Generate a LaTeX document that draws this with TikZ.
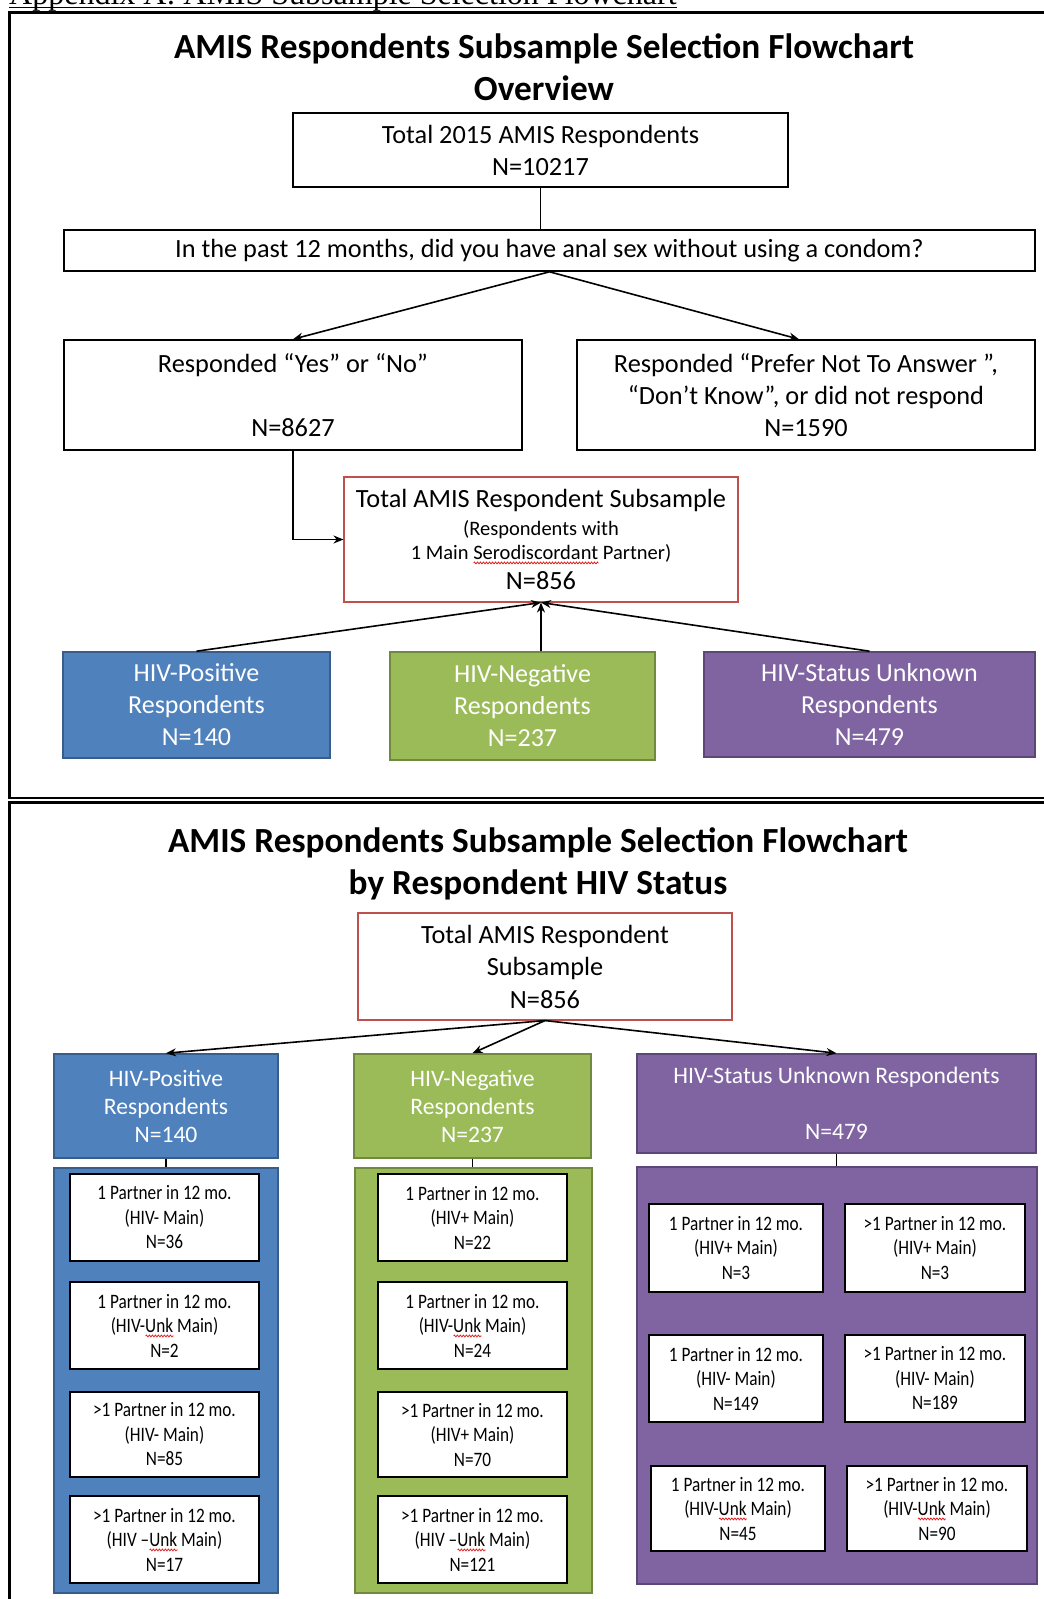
\documentclass[tikz,border=0pt]{standalone}
\usepackage{fontspec}
\setmainfont{Carlito}
\newfontfamily\capfont{Liberation Serif}
\newfontfamily\condfont[FakeStretch=0.84]{Carlito}
\usetikzlibrary{arrows.meta,decorations.pathmorphing}
\definecolor{bluef}{HTML}{4F81BD}
\definecolor{blued}{HTML}{385D8A}
\definecolor{greenf}{HTML}{9BBB59}
\definecolor{greend}{HTML}{71893F}
\definecolor{purpf}{HTML}{8064A2}
\definecolor{purpd}{HTML}{5C4776}
\definecolor{redb}{HTML}{C0504D}
\definecolor{redsq}{HTML}{E02020}
\newsavebox\sqbox
\newcommand\redsq[1]{\sbox\sqbox{#1}\rlap{\tikz[baseline=0pt,x=1pt,y=1pt]\draw[redsq,line width=0.8pt,decorate,decoration={zigzag,amplitude=0.9pt,segment length=3pt}] (0,-3.4) -- (\the\wd\sqbox,-3.4);}\usebox\sqbox}
\tikzset{
  bx/.style n args={4}{minimum width=#3pt-#1pt, minimum height=#4pt-#2pt, at={({(#1+#3)/2},{(#2+#4)/2})}},
  wbox/.style={inner sep=0pt, draw=black, line width=1.6pt, fill=white, align=center, font=\fontsize{26.3}{32}\selectfont},
  rbox/.style={inner sep=0pt, draw=redb, line width=1.1pt, fill=white, align=center},
  colbox/.style={inner sep=0pt, line width=1.6pt, align=center, text=white},
  cont/.style={inner sep=0pt, line width=1.6pt},
  ibox/.style={inner sep=0pt, draw=black, line width=1.8pt, fill=white, align=center, font=\condfont\fontsize{20.5}{24.5}\selectfont},
  conn/.style={line width=1.6pt},
  arr/.style={line width=1.6pt, -{Stealth[length=10pt,width=8pt]}},
  ttl/.style={inner sep=0pt, align=center, font=\bfseries\fontsize{35.3}{42}\selectfont},
  frameline/.style={line width=2.6pt}
}
\begin{document}
\begin{tikzpicture}[x=1pt,y=-1pt]
\useasboundingbox (0,0) rectangle (1044,1599);
\clip (0,0) rectangle (1044,1599);

% caption
\node[anchor=base west, inner sep=0pt, font=\capfont\fontsize{32}{38}\selectfont] (cap) at (9,4.5) {Appendix A: AMIS Subsample Selection Flowchart};
\draw[line width=1.4pt] ([yshift=-3.2pt]cap.base west) -- ([yshift=-3.2pt]cap.base east);

% frames
\draw[frameline] (1060,12.5) -- (9.7,12.5) -- (9.7,798) -- (1060,798);
\draw[frameline] (1060,802.5) -- (9.7,802.5) -- (9.7,1620);

% ---------- overview ----------
\node[ttl] (t1) at (544,67) {AMIS Respondents Subsample Selection Flowchart\\Overview};

\node[wbox, bx={293}{113}{788}{187}] (tot) {Total 2015 AMIS Respondents\\N=10217};
\node[wbox, bx={64}{230}{1035}{271}] (q) {In the past 12 months, did you have anal sex without using a condom?};
\node[wbox, bx={64}{340}{522}{450}] (yn) {Responded “Yes” or “No”\\[32pt]N=8627};
\node[wbox, bx={577}{340}{1035}{450}] (pna) {Responded “Prefer Not To Answer ”,\\“Don’t Know”, or did not respond\\N=1590};
\node[rbox, bx={344}{477}{738}{602}, font=\fontsize{26.3}{26}\selectfont] (sub) {Total AMIS Respondent Subsample\\[2pt]{\fontsize{20.5}{24}\selectfont (Respondents with}\\[-2pt]{\fontsize{20.5}{24}\selectfont 1 Main \redsq{Serodiscordant} Partner)}\\[4pt]N=856};

\node[colbox, fill=bluef, draw=blued, bx={63}{652}{330}{758}, font=\fontsize{26}{32}\selectfont] (pos) {HIV-Positive\\Respondents\\N=140};
\node[colbox, fill=greenf, draw=greend, bx={390}{652}{655}{760}, font=\fontsize{26}{32}\selectfont] (neg) {HIV-Negative\\Respondents\\N=237};
\node[colbox, fill=purpf, draw=purpd, bx={704}{652}{1035}{757}, font=\fontsize{26}{32}\selectfont] (unk) {HIV-Status Unknown\\Respondents\\N=479};

\draw[conn] (tot.south) -- (tot.south |- q.north);
\draw[arr] (q.south) -- (yn.north);
\draw[arr] (q.south) -- ([xshift=-7pt]pna.north);
\draw[arr] (yn.south) |- (sub.west);
\draw[arr] (pos.north) -- (sub.south);
\draw[arr] (neg.north -| sub.south) -- (sub.south);
\draw[arr] (unk.north) -- (sub.south);

% ---------- by HIV status ----------
\node[ttl] (t2) at (538,863.5) {AMIS Respondents Subsample Selection Flowchart\\by Respondent HIV Status};

\node[rbox, bx={358}{913}{732}{1020}, font=\fontsize{26.3}{32.5}\selectfont] (sub2) {Total AMIS Respondent\\Subsample\\N=856};

\node[colbox, fill=bluef, draw=blued, bx={54}{1054}{278}{1158}, font=\fontsize{23.6}{28}\selectfont] (pos2) {HIV-Positive\\Respondents\\N=140};
\node[colbox, fill=greenf, draw=greend, bx={354}{1054}{591}{1158}, font=\fontsize{23.6}{28}\selectfont] (neg2) {HIV-Negative\\Respondents\\N=237};
\node[colbox, fill=purpf, draw=purpd, bx={637}{1054}{1036}{1153}, font=\fontsize{23.6}{28}\selectfont] (unk2) {HIV-Status Unknown Respondents\\[28pt]N=479};

\node[cont, fill=bluef, draw=blued, bx={54}{1168}{278}{1593}] (posc) {};
\node[cont, fill=greenf, draw=greend, bx={355}{1168}{592}{1593}] (negc) {};
\node[cont, fill=purpf, draw=purpd, bx={637}{1167}{1037}{1584}] (unkc) {};

\draw[arr] (sub2.south) -- (pos2.north);
\draw[arr] (sub2.south) -- (neg2.north);
\draw[arr] (sub2.south) -- (unk2.north);
\draw[conn] (pos2.south) -- (pos2.south |- posc.north);
\draw[conn] (neg2.south) -- (neg2.south |- negc.north);
\draw[conn] (unk2.south) -- (unk2.south |- unkc.north);

% blue inner boxes
\node[ibox, bx={70}{1174}{259}{1261}] (p1) {1 Partner in 12 mo.\\(HIV- Main)\\N=36};
\node[ibox, bx={70}{1282}{259}{1369}] (p2) {1 Partner in 12 mo.\\(HIV-\redsq{Unk} Main)\\N=2};
\node[ibox, bx={70}{1392}{259}{1477}] (p3) {>1 Partner in 12 mo.\\(HIV- Main)\\N=85};
\node[ibox, bx={70}{1496}{259}{1583}] (p4) {>1 Partner in 12 mo.\\(HIV –\redsq{Unk} Main)\\N=17};

% green inner boxes
\node[ibox, bx={378}{1174}{567}{1261}] (n1) {1 Partner in 12 mo.\\(HIV+ Main)\\N=22};
\node[ibox, bx={378}{1282}{567}{1369}] (n2) {1 Partner in 12 mo.\\(HIV-\redsq{Unk} Main)\\N=24};
\node[ibox, bx={378}{1392}{567}{1477}] (n3) {>1 Partner in 12 mo.\\(HIV+ Main)\\N=70};
\node[ibox, bx={378}{1496}{567}{1583}] (n4) {>1 Partner in 12 mo.\\(HIV –\redsq{Unk} Main)\\N=121};

% purple inner boxes
\node[ibox, bx={649}{1204}{823}{1292}] (u1) {1 Partner in 12 mo.\\(HIV+ Main)\\N=3};
\node[ibox, bx={845}{1204}{1025}{1292}] (u2) {>1 Partner in 12 mo.\\(HIV+ Main)\\N=3};
\node[ibox, bx={649}{1335}{823}{1422}] (u3) {1 Partner in 12 mo.\\(HIV- Main)\\N=149};
\node[ibox, bx={845}{1335}{1025}{1422}] (u4) {>1 Partner in 12 mo.\\(HIV- Main)\\N=189};
\node[ibox, bx={651}{1466}{825}{1551}] (u5) {1 Partner in 12 mo.\\(HIV-\redsq{Unk} Main)\\N=45};
\node[ibox, bx={847}{1466}{1027}{1551}] (u6) {>1 Partner in 12 mo.\\(HIV-\redsq{Unk} Main)\\N=90};
\end{tikzpicture}
\end{document}
